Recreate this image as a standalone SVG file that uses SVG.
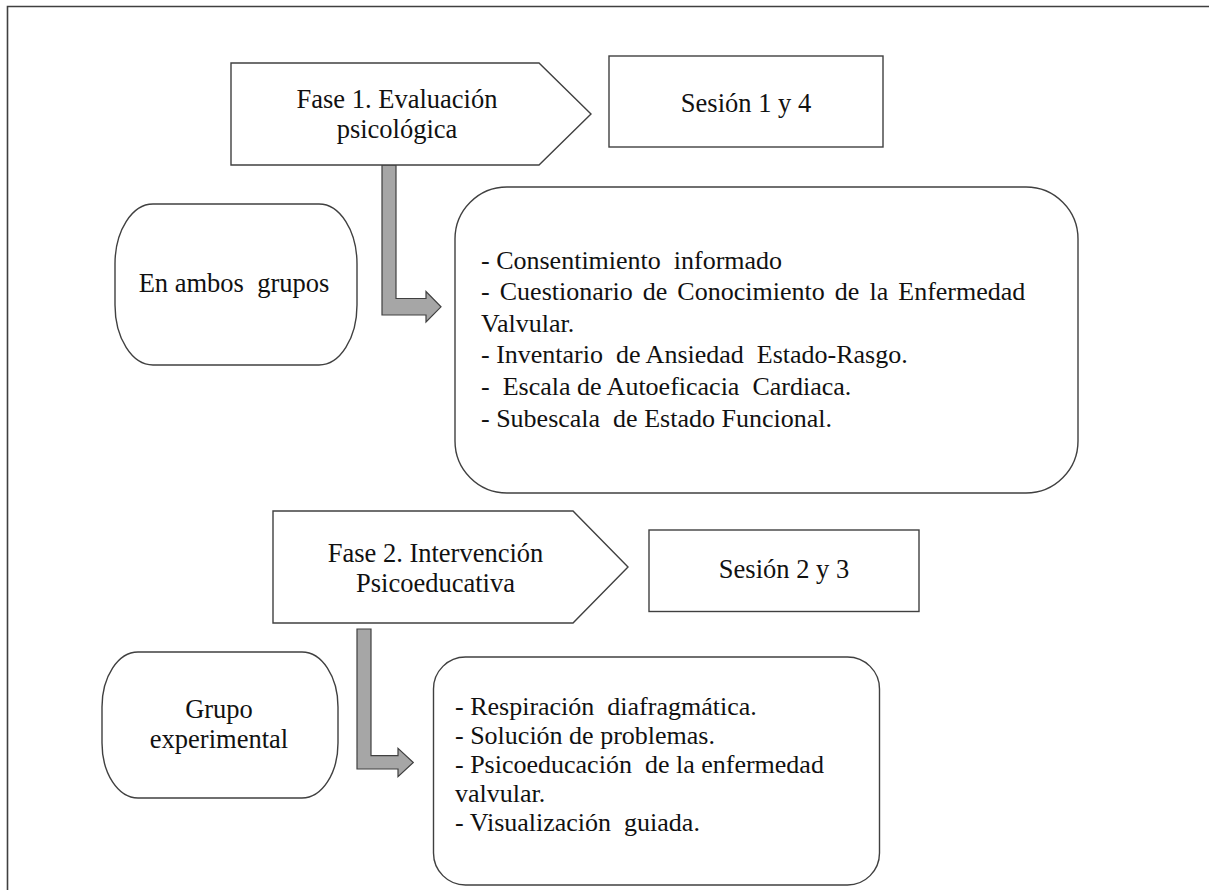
<svg xmlns="http://www.w3.org/2000/svg" width="1209" height="890" viewBox="0 0 1209 890">
<style>
.sh{fill:#fff;stroke:#404040;stroke-width:1.4}
.ar{fill:#a6a6a6;stroke:#404040;stroke-width:1.2}
.t{font-family:"Liberation Serif","Times New Roman",serif;fill:#111;white-space:pre}
.lbl{font-size:26.5px}
.l1{font-size:26px}
.l2{font-size:26px}
</style>
<rect width="1209" height="890" fill="#fff"/>
<path d="M7.5 890 V6.5 H1209" fill="none" stroke="#404040" stroke-width="1.6"/>

<g id="connectors">
<polygon class="ar" points="382,165 396,165 396,298.5 426,298.5 426,291.5 441,306.8 426,322 426,315 382,315"/>
<polygon class="ar" points="357,629 371,629 371,755.7 398,755.7 398,748.3 413.3,762.5 398,776.7 398,769 357,769"/>
</g>

<g id="fase1">
<polygon class="sh" points="231,63 539,63 591,114 539,165 231,165"/>
<text class="t lbl" x="397" y="107.7" text-anchor="middle">Fase 1. Evaluación</text>
<text class="t lbl" x="397" y="138.3" text-anchor="middle">psicológica</text>
</g>

<g id="sesion14">
<rect class="sh" x="609" y="56" width="274" height="91"/>
<text class="t lbl" x="746" y="111.5" text-anchor="middle">Sesión 1 y 4</text>
</g>

<g id="ambos">
<rect class="sh" x="115" y="204" width="242" height="161" rx="38" ry="60"/>
<text class="t lbl" x="234" y="291.5" text-anchor="middle" xml:space="preserve">En ambos  grupos</text>
</g>

<g id="lista1">
<rect class="sh" x="455" y="187" width="623" height="306" rx="52" ry="52"/>
<text class="t l1" x="481" y="268.5" xml:space="preserve">- Consentimiento  informado</text>
<text class="t l1" x="481" y="300.1" style="word-spacing:3.6px">- Cuestionario de Conocimiento de la Enfermedad</text>
<text class="t l1" x="481" y="331.7">Valvular.</text>
<text class="t l1" x="481" y="363.3" xml:space="preserve">- Inventario  de Ansiedad  Estado-Rasgo.</text>
<text class="t l1" x="481" y="394.9" xml:space="preserve">-  Escala de Autoeficacia  Cardiaca.</text>
<text class="t l1" x="481" y="426.5" xml:space="preserve">- Subescala  de Estado Funcional.</text>
</g>

<g id="fase2">
<polygon class="sh" points="273,511 573,511 628,567 573,623 273,623"/>
<text class="t lbl" x="435.5" y="561.7" text-anchor="middle">Fase 2. Intervención</text>
<text class="t lbl" x="435.5" y="591.7" text-anchor="middle">Psicoeducativa</text>
</g>

<g id="sesion23">
<rect class="sh" x="649" y="530" width="270" height="81.5"/>
<text class="t lbl" x="784" y="578" text-anchor="middle">Sesión 2 y 3</text>
</g>

<g id="experimental">
<rect class="sh" x="102" y="652" width="236" height="146" rx="36" ry="55"/>
<text class="t lbl" x="219" y="717.7" text-anchor="middle">Grupo</text>
<text class="t lbl" x="219" y="748.3" text-anchor="middle">experimental</text>
</g>

<g id="lista2">
<rect class="sh" x="433.5" y="657" width="446" height="228" rx="32" ry="32"/>
<text class="t l2" x="455" y="714.5" xml:space="preserve">- Respiración  diafragmática.</text>
<text class="t l2" x="455" y="743.5">- Solución de problemas.</text>
<text class="t l2" x="455" y="772.5" xml:space="preserve">- Psicoeducación  de la enfermedad</text>
<text class="t l2" x="455" y="801.5">valvular.</text>
<text class="t l2" x="455" y="830.5" xml:space="preserve">- Visualización  guiada.</text>
</g>
</svg>
